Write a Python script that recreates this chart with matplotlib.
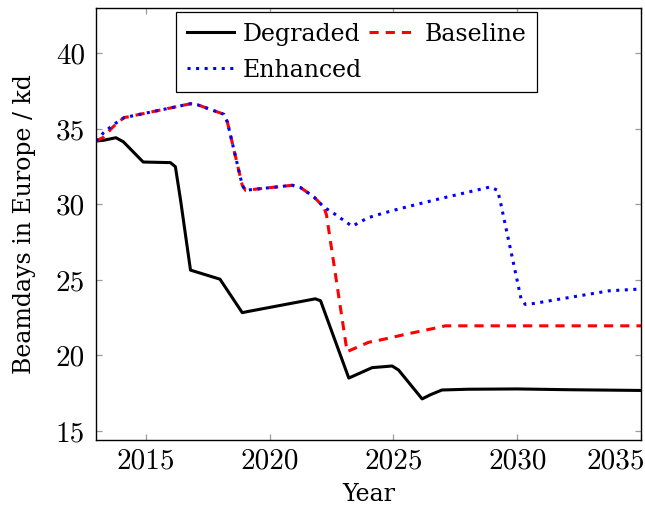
import matplotlib
matplotlib.use("Agg")
import matplotlib.pyplot as plt
from matplotlib.transforms import ScaledTranslation

# Beamday projections for the three scenarios
degraded_years = [2013.0, 2013.3, 2013.8, 2014.1, 2014.9, 2016.0, 2016.2, 2016.41, 2016.81,
                  2018.0, 2018.9, 2019.1, 2021.85, 2022.06, 2023.2, 2024.14, 2024.95,
                  2025.21, 2026.16, 2026.5, 2026.96, 2028.0, 2030.0, 2032.0, 2035.0]
degraded_vals = [34.2, 34.25, 34.42, 34.15, 32.81, 32.77, 32.5, 30.28, 25.65,
                 25.05, 22.83, 22.9, 23.75, 23.62, 18.5, 19.19, 19.3,
                 19.03, 17.12, 17.4, 17.71, 17.76, 17.78, 17.73, 17.68]

baseline_years = [2013.0, 2013.3, 2013.6, 2013.85, 2014.13, 2016.81, 2017.1, 2018.16,
                  2018.3, 2018.9, 2019.03, 2020.92, 2021.25, 2021.79, 2022.19, 2022.3,
                  2023.13, 2024.0, 2024.47, 2025.55, 2026.63, 2027.1, 2035.0]
baseline_vals = [34.2, 34.45, 35.0, 35.4, 35.75, 36.67, 36.6, 35.97,
                 35.45, 31.27, 30.94, 31.27, 31.12, 30.5, 29.83, 29.3,
                 20.25, 20.87, 21.02, 21.42, 21.79, 21.96, 21.96]

enhanced_years = [2013.0, 2013.3, 2013.6, 2013.85, 2014.13, 2016.81, 2017.1, 2018.16,
                  2018.3, 2018.9, 2019.03, 2020.92, 2021.25, 2021.79, 2022.19, 2022.6,
                  2023.33, 2023.67, 2023.94, 2024.54, 2025.28, 2026.9, 2028.91, 2029.2,
                  2029.3, 2030.15, 2030.32, 2030.66, 2033.71, 2035.0]
enhanced_vals = [34.2, 34.75, 35.15, 35.45, 35.75, 36.67, 36.6, 35.97,
                 35.45, 31.27, 30.94, 31.27, 31.12, 30.5, 29.83, 29.4,
                 28.56, 28.84, 29.1, 29.4, 29.73, 30.39, 31.16, 30.94,
                 30.32, 23.78, 23.38, 23.44, 24.28, 24.4]

x_ticks = [2015, 2020, 2025, 2030, 2035]
y_ticks = [15, 20, 25, 30, 35, 40]

plt.rcParams["font.family"] = ["DejaVu Serif"]
plt.rcParams["axes.formatter.use_mathtext"] = True

fig = plt.figure(figsize=(6.45, 5.11), dpi=100)
ax = fig.add_axes([0.149, 0.139, 0.845, 0.845])

lw = 2.2
l_deg, = ax.plot(degraded_years, degraded_vals, color="black", lw=lw,
                 solid_joinstyle="round", label="Degraded")
l_base, = ax.plot(baseline_years, baseline_vals, color="red", lw=lw,
                  dashes=(3.0, 2.3), dash_capstyle="butt", label="Baseline")
l_enh, = ax.plot(enhanced_years, enhanced_vals, color="blue", lw=lw,
                 dashes=(1.0, 1.8), dash_capstyle="butt", label="Enhanced")

ax.set_xlim(2013, 2035)
ax.set_ylim(14.4, 43.0)
ax.set_xticks(x_ticks)
ax.set_yticks(y_ticks)
ax.set_xticklabels([str(v) for v in x_ticks])
ax.set_yticklabels([str(v) for v in y_ticks])

ax.tick_params(direction="in", length=4.5, width=0.9, color="#9a9a9a",
               top=True, right=True, labelsize=21, labelfontfamily="cmr10")
ax.tick_params(axis="x", pad=6)
ax.tick_params(axis="y", pad=8)
for s in ax.spines.values():
    s.set_color("black")
    s.set_linewidth(1.0)

# keep the last year label inside the figure
last = ax.get_xticklabels()[-1]
last.set_horizontalalignment("right")
last.set_transform(last.get_transform() + ScaledTranslation(0.04, 0, fig.dpi_scale_trans))

ax.set_xlabel("Year", fontsize=17, labelpad=6)
ax.set_ylabel("Beamdays in Europe / kd", fontsize=17, labelpad=14)

leg = ax.legend([l_deg, l_enh, l_base], ["Degraded", "Enhanced", "Baseline"],
                ncol=2, loc="upper center", bbox_to_anchor=(0.478, 0.991),
                borderaxespad=0.0,
                fontsize=17, frameon=True, fancybox=False, framealpha=1,
                edgecolor="black", handlelength=2.0, handletextpad=0.35,
                columnspacing=0.3, labelspacing=0.55, borderpad=0.45)
leg.get_frame().set_linewidth(0.9)

fig.savefig("out.png", dpi=100)
